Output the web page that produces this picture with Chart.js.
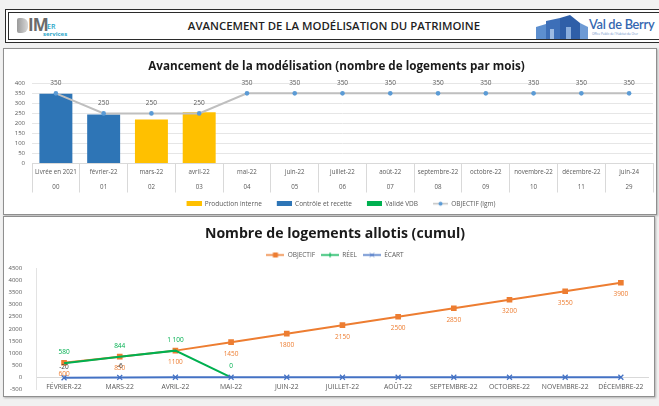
<!DOCTYPE html>
<html lang="fr">
<head>
<meta charset="utf-8">
<title>Avancement de la modélisation du patrimoine</title>
<script src="https://cdn.jsdelivr.net/npm/chart.js@4.4.1/dist/chart.umd.min.js"></script>
<style>
  body { margin: 0; width: 659px; height: 406px; background: #f1f1f1; position: relative; overflow: hidden; font-family: "Open Sans", sans-serif; }
  #header { position: absolute; left: 5px; top: 9px; width: 670px; height: 26px; border: 4px double #2b2b2b; background: #fff; }
  #header h1 { position: absolute; left: 0; top: 0; width: 650px; margin: 0; text-align: center;
    font: 600 11.4px "Open Sans", sans-serif; line-height: 26px; color: #1f1f1f; }
  .logo-b { position: absolute; left: 8px; top: 5px; width: 11px; height: 15px; background: linear-gradient(90deg, #9a9a9a, #d8d8d8); border-radius: 2px 6px 6px 2px; }
  .logo-im { position: absolute; left: 19px; top: 0px; font: bold 17px "Open Sans", sans-serif; color: #6b6b6b; letter-spacing: -1px; }
  .logo-er { position: absolute; left: 38px; top: 9px; font: 600 7px "Open Sans", sans-serif; color: #2aa6c8; }
  .logo-serv { position: absolute; left: 34px; top: 17px; font: bold 6px "Open Sans", sans-serif; color: #2aa6c8; }
  .vdb { position: absolute; left: 527px; top: 2px; }
  .vdb-name { position: absolute; left: 580px; top: 3px; font: 600 12.8px "Lato", sans-serif; color: #3567b0; white-space: nowrap; letter-spacing: -0.3px; }
  .vdb-sub { position: absolute; left: 583px; top: 19px; font: 3px "Open Sans", sans-serif; color: #6a8fc7; white-space: nowrap; }
  .panel { position: absolute; background: #fff; border: 1px solid #8f8f8f; box-shadow: 1px 1px 2px #b0b0b0; }
  #panelTop { left: 3px; top: 48px; width: 652px; height: 165px; }
  #panelBottom { left: 3px; top: 216px; width: 650px; height: 179px; }
  canvas { position: absolute; }
  #topChart { left: 4px; top: 49px; }
  #bottomChart { left: 4px; top: 217px; }
</style>
</head>
<body>
<div id="header">
  <div class="logo-b"></div>
  <div class="logo-im">IM</div>
  <div class="logo-er">ER</div>
  <div class="logo-serv">services</div>
  <h1>AVANCEMENT DE LA MODÉLISATION DU PATRIMOINE</h1>
  <svg class="vdb" width="52" height="24" viewBox="0 0 52 24">
    <polygon points="0,12 10,9 10,24 0,24" fill="#5d8fcf"/>
    <polygon points="10,6 24,3 24,24 10,24" fill="#3d6fb8"/>
    <polygon points="24,3 34,0 44,8 44,24 24,24" fill="#2f5fa8"/>
    <polygon points="44,8 52,12 52,24 44,24" fill="#6e9ad4"/>
    <rect x="14" y="14" width="4" height="10" fill="#9dbbe3"/>
    <rect x="30" y="12" width="5" height="12" fill="#8aaedd"/>
  </svg>
  <div class="vdb-name">Val de Berry</div>
  <div class="vdb-sub">Office Public de l'Habitat du Cher</div>
</div>
<div class="panel" id="panelTop"></div>
<div class="panel" id="panelBottom"></div>
<canvas id="topChart"></canvas>
<canvas id="bottomChart"></canvas>

<script>
// ---- données : avancement mensuel ----
const topMonths = ["Livrée en 2021", "février-22", "mars-22", "avril-22", "mai-22", "juin-22", "juillet-22",
  "août-22", "septembre-22", "octobre-22", "novembre-22", "décembre-22", "juin-24"];
const topCodes = ["00", "01", "02", "03", "04", "05", "06", "07", "08", "09", "10", "11", "29"];
const productionInterne = [null, null, 220, 255, null, null, null, null, null, null, null, null, null];
const controleRecette = [348, 245, null, null, null, null, null, null, null, null, null, null, null];
const valideVdb = [null, null, null, null, null, null, null, null, null, null, null, null, null];
const objectifMois = [350, 250, 250, 250, 350, 350, 350, 350, 350, 350, 350, 350, 350];
const topTicks = [0, 50, 100, 150, 200, 250, 300, 350, 400];

// ---- données : logements allotis (cumul) ----
const bottomMonths = ["FÉVRIER-22", "MARS-22", "AVRIL-22", "MAI-22", "JUIN-22", "JUILLET-22", "AOÛT-22",
  "SEPTEMBRE-22", "OCTOBRE-22", "NOVEMBRE-22", "DÉCEMBRE-22"];
const objectifCumul = [600, 850, 1100, 1450, 1800, 2150, 2500, 2850, 3200, 3550, 3900];
const reelCumul = [580, 844, 1100, 0, null, null, null, null, null, null, null];
const ecartCumul = [-20, -6, 0, 0, 0, 0, 0, 0, 0, 0, 0];
const bottomTicks = [-500, 0, 500, 1000, 1500, 2000, 2500, 3000, 3500, 4000, 4500];

const smallFont = "Open Sans";
const tickColor = "#595959";

// étiquettes de valeurs (pas de plugin datalabels disponible)
const valueLabels = {
  id: "valueLabels",
  afterDatasetsDraw(chart) {
    const ctx = chart.ctx;
    chart.data.datasets.forEach((ds, i) => {
      if (!ds.labelColor) return;
      const meta = chart.getDatasetMeta(i);
      meta.data.forEach((pt, j) => {
        const v = ds.data[j];
        if (v === null || (ds.skipZero && v === 0)) return;
        ctx.save();
        ctx.font = "6.5px " + smallFont;
        ctx.fillStyle = ds.labelColor;
        ctx.textAlign = "center";
        ctx.textBaseline = "middle";
        const txt = ds.spaced ? String(v).replace(/\B(?=(\d{3})+(?!\d))/g, " ") : String(v);
        ctx.fillText(txt, pt.x, pt.y + ds.labelOffset);
        ctx.restore();
      });
    });
  }
};

// petits dessins de légende (marge transparente à gauche = espacement)
function boxMark(color, gap) {
  const c = document.createElement("canvas");
  c.width = 15 + gap; c.height = 5;
  const g = c.getContext("2d");
  g.fillStyle = color;
  g.fillRect(gap, 0, 15, 5);
  return c;
}
function lineMark(color, markColor, kind, w, gap) {
  const c = document.createElement("canvas");
  c.width = w + gap; c.height = 7;
  const g = c.getContext("2d");
  g.strokeStyle = color;
  g.lineWidth = 1.5;
  g.beginPath(); g.moveTo(gap, 3.5); g.lineTo(gap + w, 3.5); g.stroke();
  const m = gap + w / 2;
  g.fillStyle = markColor;
  g.strokeStyle = markColor;
  if (kind === "circle") { g.beginPath(); g.arc(m, 3.5, 2, 0, Math.PI * 2); g.fill(); }
  if (kind === "rect") { g.fillRect(m - 2.5, 1, 5, 5); }
  if (kind === "cross") { g.lineWidth = 1; g.beginPath(); g.moveTo(m - 2, 1.5); g.lineTo(m + 2, 5.5); g.moveTo(m + 2, 1.5); g.lineTo(m - 2, 5.5); g.stroke(); }
  if (kind === "plus") { g.lineWidth = 1; g.beginPath(); g.moveTo(m, 1); g.lineTo(m, 6); g.stroke(); }
  return c;
}

const topGap = 9;
const topMarks = [boxMark("#ffc000", topGap), boxMark("#2e75b6", topGap), boxMark("#00b050", topGap),
  lineMark("#bfbfbf", "#5b9bd5", "circle", 15, topGap)];
const bottomMarks = [lineMark("#ed7d31", "#ed7d31", "rect", 18, 0), lineMark("#00b050", "#00b050", "plus", 18, 0),
  lineMark("#4472c4", "#4472c4", "cross", 18, 0)];

function legendWith(marks) {
  return function (chart) {
    const items = Chart.defaults.plugins.legend.labels.generateLabels(chart);
    items.sort((a, b) => a.datasetIndex - b.datasetIndex);
    items.forEach((it) => { it.pointStyle = marks[it.datasetIndex]; });
    return items;
  };
}

// ---- graphique du haut ----
const topTitleSize = 11.7;
const topTitleTop = 17.5 - topTitleSize * 0.6;
const topEl = document.getElementById("topChart");
topEl.width = 653; topEl.height = 168;
topEl.style.width = "653px"; topEl.style.height = "168px";

new Chart(topEl, {
  type: "bar",
  data: {
    labels: topMonths.map((m, i) => [m, topCodes[i]]),
    datasets: [
      { label: "Production interne", data: productionInterne, backgroundColor: "#ffc000", stack: "prod", order: 1 },
      { label: "Contrôle et recette", data: controleRecette, backgroundColor: "#2e75b6", stack: "prod", order: 1 },
      { label: "Validé VDB", data: valideVdb, backgroundColor: "#00b050", stack: "prod", order: 1 },
      {
        type: "line", label: "OBJECTIF (lgm)", data: objectifMois, stack: "obj", order: 0,
        borderColor: "#bfbfbf", borderWidth: 2, pointRadius: 2.3, pointBackgroundColor: "#5b9bd5",
        pointBorderWidth: 0, tension: 0, labelColor: "#595959", labelOffset: -10
      }
    ]
  },
  options: {
    responsive: false,
    animation: false,
    // titre et légende décalés à droite comme dans l'original
    layout: { padding: { left: 0, right: -12, top: 0, bottom: 0 } },
    datasets: { bar: { categoryPercentage: 1, barPercentage: 0.69 } },
    scales: {
      x: {
        stacked: true,
        grid: { drawOnChartArea: false, drawTicks: true, tickLength: 29, color: "#d9d9d9" },
        border: { display: true, color: "#d9d9d9" },
        ticks: { autoSkip: false, maxRotation: 0, padding: -28, color: tickColor, font: { family: smallFont, size: 6.2, lineHeight: 2.42 } },
        afterFit(scale) { scale.height = 31; }
      },
      y: {
        stacked: true, min: 0, max: 400,
        afterBuildTicks(scale) { scale.ticks = topTicks.map((v) => ({ value: v })); },
        grid: { color: "#e6e6e6", drawTicks: false },
        border: { display: false },
        ticks: { autoSkip: false, padding: 7, color: tickColor, font: { family: smallFont, size: 6 }, callback: (v) => String(v) },
        afterFit(scale) { scale.width = 28; }
      },
      yRight: {
        position: "right",
        grid: { display: false },
        border: { display: false },
        ticks: { display: false },
        afterFit(scale) { scale.width = 13; }
      }
    },
    plugins: {
      title: {
        display: true,
        text: "Avancement de la modélisation (nombre de logements par mois)",
        color: "#1a1a1a",
        font: { family: "Open Sans", weight: "bold", size: topTitleSize, lineHeight: 1.2 },
        padding: { top: topTitleTop, bottom: 34.3 - topTitleTop - topTitleSize * 1.2 }
      },
      legend: {
        position: "bottom",
        labels: {
          usePointStyle: true, pointStyleWidth: 15 + topGap, padding: 6, color: tickColor,
          font: { family: smallFont, size: 6.5 },
          generateLabels: legendWith(topMarks)
        }
      },
      tooltip: { enabled: false }
    }
  },
  plugins: [valueLabels]
});

// ---- graphique du bas ----
const botTitleSize = 14.1;
const botTitleTop = 16.5 - botTitleSize * 0.6;
const botLegendPad = 6;
const botEl = document.getElementById("bottomChart");
botEl.width = 650; botEl.height = 182;
botEl.style.width = "650px"; botEl.style.height = "182px";

new Chart(botEl, {
  type: "line",
  data: {
    labels: bottomMonths,
    datasets: [
      {
        label: "OBJECTIF", data: objectifCumul, order: 2, borderColor: "#ed7d31", borderWidth: 2,
        pointStyle: "rect", pointRadius: 4, pointBackgroundColor: "#ed7d31", pointBorderWidth: 0,
        labelColor: "#ed7d31", labelOffset: 11.5
      },
      {
        label: "RÉEL", data: reelCumul, order: 1, borderColor: "#00b050", borderWidth: 2, pointRadius: 0,
        labelColor: "#00b050", labelOffset: -10.7, spaced: true
      },
      {
        label: "ÉCART", data: ecartCumul, order: 0, borderColor: "#4472c4", borderWidth: 2,
        pointStyle: "crossRot", pointRadius: 3.5, pointBorderColor: "#4472c4", pointBorderWidth: 1.3,
        labelColor: "#404040", labelOffset: -11, skipZero: true
      }
    ]
  },
  options: {
    responsive: false,
    animation: false,
    // titre et légende décalés à droite comme dans l'original
    layout: { padding: { left: 0, right: -12, top: 0, bottom: 0 } },
    scales: {
      x: {
        offset: true,
        position: { y: 0 },
        grid: { display: false },
        border: { display: true, color: "#d9d9d9" },
        ticks: { autoSkip: false, maxRotation: 0, padding: -2, color: tickColor, font: { family: smallFont, size: 6.8 } }
      },
      y: {
        min: -500, max: 4500,
        afterBuildTicks(scale) { scale.ticks = bottomTicks.map((v) => ({ value: v })); },
        grid: { display: false },
        border: { display: true, color: "#e3e3e3" },
        ticks: { autoSkip: false, padding: 6, color: tickColor, font: { family: smallFont, size: 6 }, callback: (v) => String(v) },
        afterFit(scale) { scale.width = 32.2; }
      },
      yRight: {
        position: "right",
        grid: { display: false },
        border: { display: false },
        ticks: { display: false },
        afterFit(scale) { scale.width = 11.2; }
      }
    },
    plugins: {
      title: {
        display: true,
        text: "Nombre de logements allotis (cumul)",
        color: "#1a1a1a",
        font: { family: "Open Sans", weight: "bold", size: botTitleSize, lineHeight: 1.2 },
        padding: { top: botTitleTop, bottom: 38 - botLegendPad - 3.25 - botTitleTop - botTitleSize * 1.2 }
      },
      legend: {
        position: "top",
        labels: {
          usePointStyle: true, pointStyleWidth: 18, padding: botLegendPad, color: tickColor,
          font: { family: smallFont, size: 6.5 },
          generateLabels: legendWith(bottomMarks)
        }
      },
      tooltip: { enabled: false }
    }
  },
  plugins: [valueLabels]
});
</script>
</body>
</html>
